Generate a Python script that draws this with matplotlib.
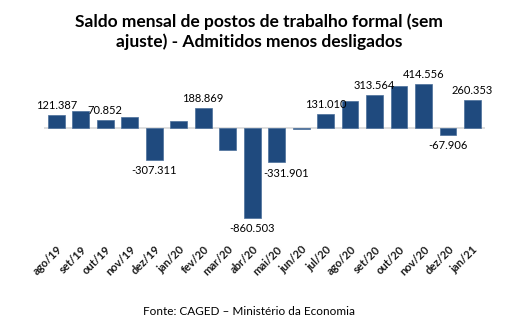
import matplotlib.pyplot as plt
import numpy as np

plt.rcParams['font.family'] = ['Lato', 'DejaVu Sans']

meses = ["ago/19", "set/19", "out/19", "nov/19", "dez/19", "jan/20", "fev/20",
         "mar/20", "abr/20", "mai/20", "jun/20", "jul/20", "ago/20", "set/20",
         "out/20", "nov/20", "dez/20", "jan/21"]
saldo = [121387, 157213, 70852, 99232, -307311, 65000, 188869,
         -209000, -860503, -331901, -10984, 131010, 249388, 313564,
         394989, 414556, -67906, 260353]
# which bars carry a data label
rotulados = ["ago/19", "out/19", "dez/19", "fev/20", "abr/20", "mai/20",
             "jul/20", "set/20", "nov/20", "dez/20", "jan/21"]

def fmt(v):
    return f"{v:,}".replace(",", ".")

fig = plt.figure(figsize=(5.13, 3.28), dpi=100)
ax = fig.add_axes([0.0858, 0.291, 0.859, 0.512])

x = np.arange(len(meses))
ax.bar(x, saldo, width=0.69, color="#1f4a7e", edgecolor="#4a6e9a", linewidth=0.5, zorder=2)
ax.axhline(0, color="#d9d9d9", linewidth=1.2, zorder=1)

for xi, m, v in zip(x, meses, saldo):
    if m not in rotulados:
        continue
    if v >= 0:
        ax.annotate(fmt(v), (xi, v), xytext=(0, 3), textcoords="offset points",
                    ha="center", va="bottom", fontsize=8)
    else:
        # mai/20 label was nudged right in the original so it clears abr/20
        dx = 7 if m == "mai/20" else 0
        ax.annotate(fmt(v), (xi, v), xytext=(dx, -4), textcoords="offset points",
                    ha="center", va="top", fontsize=8)

ax.set_xlim(-0.5, len(meses) - 0.5)
ax.set_ylim(-1000000, 600000)
ax.set_yticks([])
ax.set_xticks(x)
ax.set_xticklabels(meses, rotation=45, ha="right", rotation_mode="anchor",
                   fontsize=8, fontweight="bold", color="#1a1a1a")
ax.tick_params(axis="x", length=0, pad=8)
for s in ax.spines.values():
    s.set_visible(False)

fig.text(0.505, 0.96, "Saldo mensal de postos de trabalho formal (sem\najuste) - Admitidos menos desligados",
         ha="center", va="top", fontsize=12.5, fontweight="bold", linespacing=1.25)
fig.text(0.485, 0.05, "Fonte: CAGED \u2013 Ministério da Economia", ha="center", va="center", fontsize=8.5)

fig.savefig("out.png", dpi=100)
